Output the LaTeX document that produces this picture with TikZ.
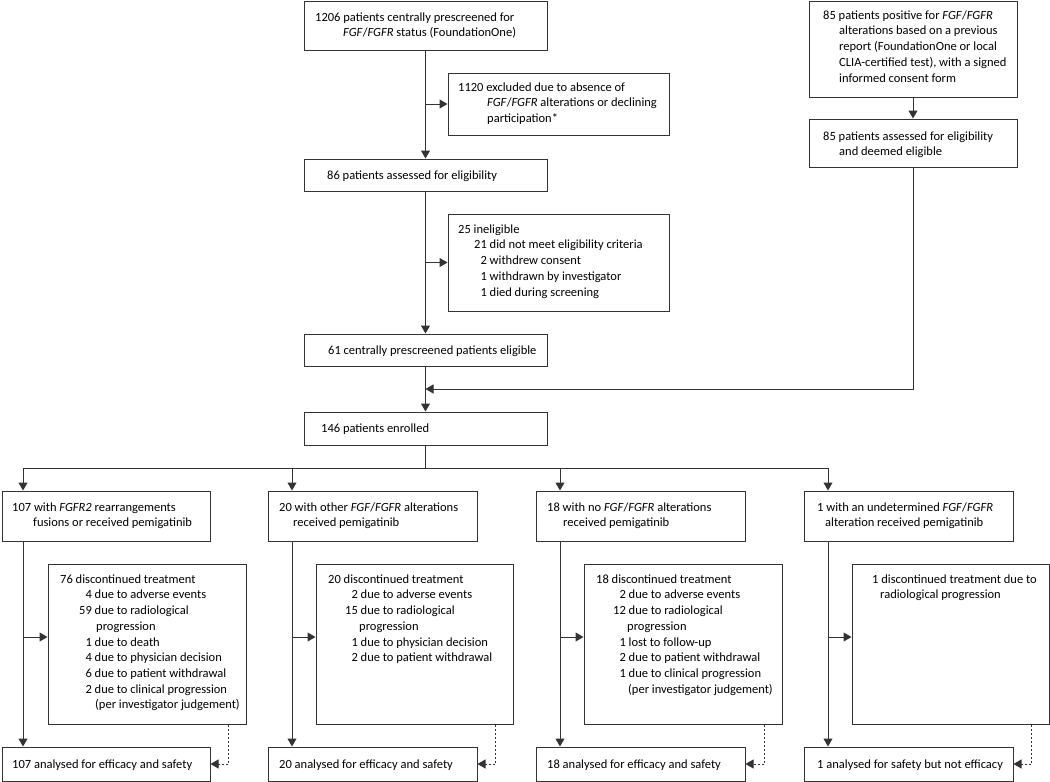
\documentclass[tikz,border=0pt]{standalone}
\usepackage{fontspec}
\setmainfont{Carlito}
\usetikzlibrary{arrows.meta,calc}
\tikzset{
 bx/.style={draw=black!80, line width=1pt, inner sep=0pt},
 tx/.style={inner sep=0pt, anchor=north west, align=left, font=\fontsize{12.5}{15.7}\selectfont, text=black},
 ln/.style={draw=black!80, line width=1pt},
 arr/.style={-{Triangle[width=9pt,length=8pt]}},
 dsh/.style={draw=black!80, line width=0.8pt, dash pattern=on 2pt off 2pt},
}
\newcommand{\mkbox}[5]{\node[bx, minimum width={(#4-#2)*1pt}, minimum height={(#5-#3)*1pt}] (#1) at ({(#2+#4)/2},{(#3+#5)/2}) {};}
\newcommand{\mktext}[4]{\node[tx] (#1) at (#2,{#3-10}) {\rule{0pt}{10pt}#4};}
\newcommand{\ind}[1]{\hspace*{#1pt}}
\newcommand{\FG}{\textit{FGF}/\textit{FGFR}}
\begin{document}
\begin{tikzpicture}[x=1pt,y=-1pt]
\fill[white] (0,0) rectangle (1050,782);
\useasboundingbox (0,0) rectangle (1050,782);
% boxes
\mkbox{A}{304}{1}{547}{50}
\mkbox{B}{448}{73}{669}{135}
\mkbox{C}{304}{159}{547}{191}
\mkbox{D}{448}{214}{669}{311}
\mkbox{E}{304}{334}{547}{366}
\mkbox{F}{304}{412}{547}{445}
\mkbox{G}{809}{1}{1017}{97}
\mkbox{H}{809}{119}{1017}{167}
\mkbox{b1}{2}{491}{210}{541}
\mkbox{b2}{268}{491}{477}{541}
\mkbox{b3}{536}{491}{745}{541}
\mkbox{b4}{804}{491}{1013}{541}
\mkbox{d1}{48}{564}{246}{724}
\mkbox{d2}{316}{564}{513}{724}
\mkbox{d3}{584}{564}{782}{724}
\mkbox{d4}{852}{564}{1049}{724}
\mkbox{a1}{2}{747}{210}{781}
\mkbox{a2}{268}{747}{477}{781}
\mkbox{a3}{536}{747}{745}{781}
\mkbox{a4}{804}{747}{1013}{781}
% texts
\mktext{tA}{315}{21}{1206 patients centrally prescreened for\\\ind{28}\FG{} status (FoundationOne)}
\mktext{tB}{458}{91}{1120 excluded due to absence of\\\ind{29}\FG{} alterations or declining\\\ind{29}participation*}
\mktext{tC}{327}{179}{86 patients assessed for eligibility}
\mktext{tD}{458}{233}{25 ineligible\\\ind{16}21 did not meet eligibility criteria\\\ind{16}\phantom{0}2 withdrew consent\\\ind{16}\phantom{0}1 withdrawn by investigator\\\ind{16}\phantom{0}1 died during screening}
\mktext{tE}{328}{354}{61 centrally prescreened patients eligible}
\mktext{tF}{321}{432}{146 patients enrolled}
\mktext{tG}{823}{19}{85 patients positive for \FG\\\ind{16}alterations based on a previous\\\ind{16}report (FoundationOne or local\\\ind{16}CLIA-certified test), with a signed\\\ind{16}informed consent form}
\mktext{tH}{823}{140}{85 patients assessed for eligibility\\\ind{16}and deemed eligible}
\mktext{tb1}{12}{511}{107 with \textit{FGFR2} rearrangements\\\ind{21}fusions or received pemigatinib}
\mktext{tb2}{279}{511}{20 with other \FG{} alterations\\\ind{14}received pemigatinib}
\mktext{tb3}{547}{511}{18 with no \FG{} alterations\\\ind{16}received pemigatinib}
\mktext{tb4}{817}{511}{1 with an undetermined \FG\\\ind{8}alteration received pemigatinib}
\mktext{td1}{60}{583}{76 discontinued treatment\\\ind{19}\phantom{0}4 due to adverse events\\\ind{19}59 due to radiological\\\ind{36}progression\\\ind{19}\phantom{0}1 due to death\\\ind{19}\phantom{0}4 due to physician decision\\\ind{19}\phantom{0}6 due to patient withdrawal\\\ind{19}\phantom{0}2 due to clinical progression\\\ind{35}(per investigator judgement)}
\mktext{td2}{328}{583}{20 discontinued treatment\\\ind{17}\phantom{0}2 due to adverse events\\\ind{17}15 due to radiological\\\ind{31}progression\\\ind{17}\phantom{0}1 due to physician decision\\\ind{17}\phantom{0}2 due to patient withdrawal}
\mktext{td3}{596}{583}{18 discontinued treatment\\\ind{17}\phantom{0}2 due to adverse events\\\ind{17}12 due to radiological\\\ind{31}progression\\\ind{17}\phantom{0}1 lost to follow-up\\\ind{17}\phantom{0}2 due to patient withdrawal\\\ind{17}\phantom{0}1 due to clinical progression\\\ind{32}(per investigator judgement)}
\mktext{td4}{872}{583}{1 discontinued treatment due to\\\ind{8}radiological progression}
\mktext{ta1}{12}{768}{107 analysed for efficacy and safety}
\mktext{ta2}{279}{768}{20 analysed for efficacy and safety}
\mktext{ta3}{547}{768}{18 analysed for efficacy and safety}
\mktext{ta4}{817}{768}{1 analysed for safety but not efficacy}
% top connectors
\draw[ln,arr] (A) -- (C);
\draw[ln,arr] (A.south |- B.west) -- (B.west);
\draw[ln,arr] (C) -- (E);
\draw[ln,arr] (C.south |- D.west) -- (D.west);
\draw[ln,arr] (E) -- (F);
\draw[ln,arr] (G) -- (H);
\coordinate (mrg) at ($(E.south)!0.5!(F.north)$);
\draw[ln,arr] (H.south) |- (mrg);
% split
\coordinate (spl) at (425.5,468);
\coordinate (c1) at (23,468);
\coordinate (c2) at (292,468);
\coordinate (c3) at (560,468);
\coordinate (c4) at (828,468);
\draw[ln] (F.south) -- (spl);
\draw[ln] (c1) -- (c4);
\foreach \i in {1,2,3,4}{
  \draw[ln,arr] (c\i) -- (c\i |- b\i.north);
  \draw[ln,arr] (c\i |- b\i.south) -- (c\i |- a\i.north);
  \coordinate (k\i) at ($(d\i.west)+(0,-7)$);
  \draw[ln,arr] (c\i |- k\i) -- (k\i);
  \coordinate (e\i) at ($(d\i.south east)+(-18,0)$);
  \draw[dsh,arr] (e\i) |- (a\i.east);
}
\end{tikzpicture}
\end{document}
